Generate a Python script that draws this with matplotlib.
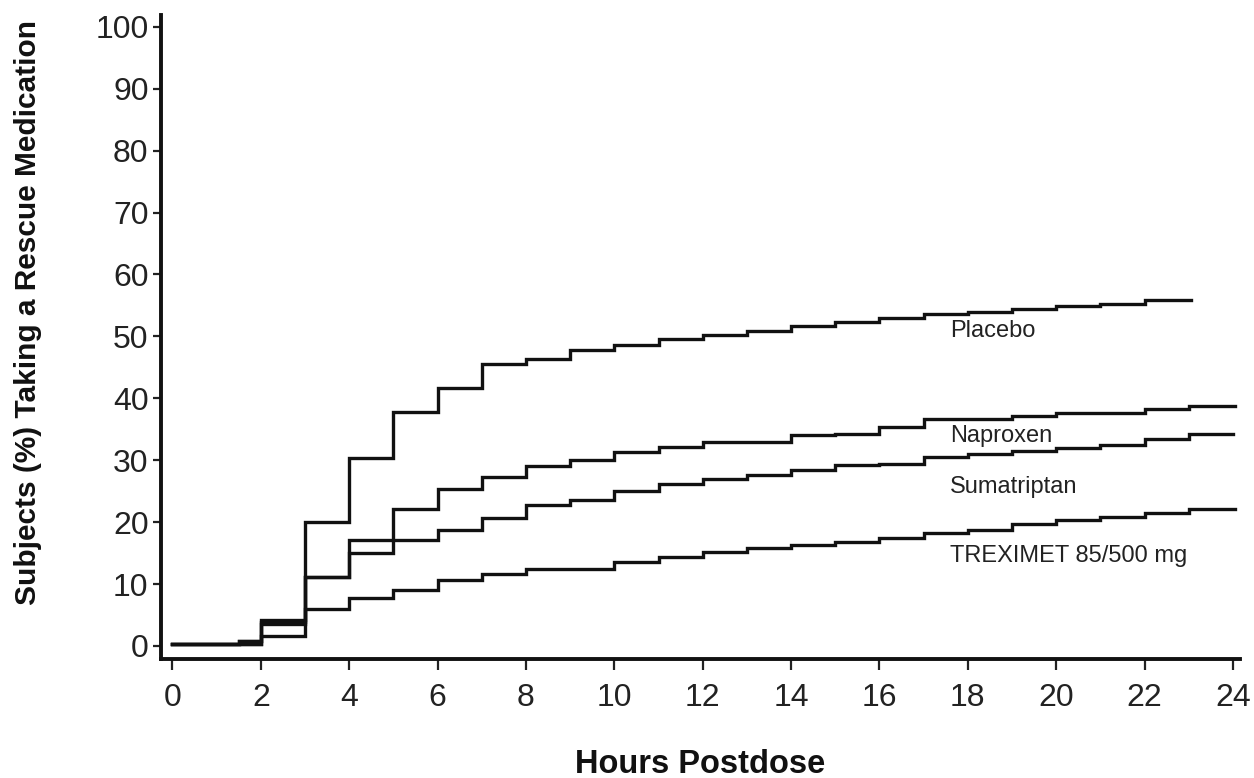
import matplotlib
matplotlib.use("Agg")
import matplotlib.pyplot as plt

# ---- data ----
placebo_hours = [0, 1.5, 2, 3, 4, 5, 6, 7, 8, 9, 10, 11, 12, 13, 14, 15, 16, 17, 18, 19, 20, 21, 22]
placebo_vals  = [0.3, 0.8, 4.2, 20.1, 30.3, 37.8, 41.7, 45.5, 46.3, 47.8, 48.6, 49.6, 50.3, 50.9, 51.6, 52.4, 52.9, 53.6, 54.0, 54.4, 54.9, 55.3, 55.9]
placebo_end = 23.05

naproxen_hours = [0, 1.5, 2, 3, 4, 5, 6, 7, 8, 9, 10, 11, 12, 13, 14, 15, 16, 17, 18, 19, 20, 21, 22, 23]
naproxen_vals  = [0.3, 0.8, 3.9, 11.2, 15.0, 22.1, 25.4, 27.3, 29.0, 30.0, 31.4, 32.2, 33.0, 33.0, 34.0, 34.2, 35.4, 36.6, 36.6, 37.2, 37.7, 37.7, 38.2, 38.7]
naproxen_end = 24.05

suma_hours = [0, 2, 3, 4, 5, 6, 7, 8, 9, 10, 11, 12, 13, 14, 15, 16, 17, 18, 19, 20, 21, 22, 23]
suma_vals  = [0.3, 3.6, 11.2, 17.1, 17.1, 18.8, 20.6, 22.8, 23.6, 25.0, 26.2, 26.9, 27.6, 28.4, 29.3, 29.4, 30.5, 31.0, 31.5, 31.9, 32.5, 33.5, 34.2]
suma_end = 24.0

trex_hours = [0, 2, 3, 4, 5, 6, 7, 8, 9, 10, 11, 12, 13, 14, 15, 16, 17, 18, 19, 20, 21, 22, 23]
trex_vals  = [0.3, 1.6, 5.9, 7.7, 9.0, 10.7, 11.7, 12.4, 12.4, 13.6, 14.4, 15.2, 15.8, 16.3, 16.8, 17.5, 18.2, 18.8, 19.7, 20.3, 20.9, 21.5, 22.2]
trex_end = 24.05

series = [
    ("Placebo", placebo_hours, placebo_vals, placebo_end, 50.9),
    ("Naproxen", naproxen_hours, naproxen_vals, naproxen_end, 33.9),
    ("Sumatriptan", suma_hours, suma_vals, suma_end, 25.7),
    ("TREXIMET 85/500 mg", trex_hours, trex_vals, trex_end, 14.6),
]
label_x = 17.6

x_ticks = list(range(0, 25, 2))
y_ticks = list(range(0, 101, 10))
x_title = "Hours Postdose"
y_title = "Subjects (%) Taking a Rescue Medication"

FAM = ["Liberation Sans", "DejaVu Sans"]

# ---- figure ----
fig = plt.figure(figsize=(12.54, 7.78), dpi=100)
ax = fig.add_axes([161/1254, 119/778, (1240-161)/1254, (659-15)/778])

for name, hrs, vals, end, ly in series:
    ax.step(hrs + [end], vals + [vals[-1]], where="post", color="#111111", lw=2.4,
            solid_joinstyle="miter")
    ax.text(label_x, ly, name, fontsize=17, va="center", ha="left",
            family=FAM, color="#222222")

ax.set_xlim(-0.26, 24.16)
ax.set_ylim(-2.1, 101.9)
ax.set_xticks(x_ticks)
ax.set_yticks(y_ticks)
ax.set_xticklabels([str(t) for t in x_ticks], family=FAM, fontsize=23)
ax.set_yticklabels([str(t) for t in y_ticks], family=FAM, fontsize=23)

for s in ["top", "right"]:
    ax.spines[s].set_visible(False)
for s in ["left", "bottom"]:
    ax.spines[s].set_linewidth(2.8)
    ax.spines[s].set_color("#111111")

ax.tick_params(axis="y", direction="out", length=6, width=1.6, pad=3, colors="#222222")
ax.tick_params(axis="x", direction="out", length=8, width=1.6, pad=9, colors="#222222")

ax.set_xlabel(x_title, fontsize=23.5, fontweight="bold", family=FAM, color="#111111")
ax.xaxis.set_label_coords(0.5, -0.140)
ax.xaxis.label.set_va("top")
ax.set_ylabel(y_title, fontsize=21.5, fontweight="bold", family=FAM, color="#111111")
ax.yaxis.set_label_coords(-0.110, 0.538)

fig.savefig("out.png", dpi=100, facecolor="white")
